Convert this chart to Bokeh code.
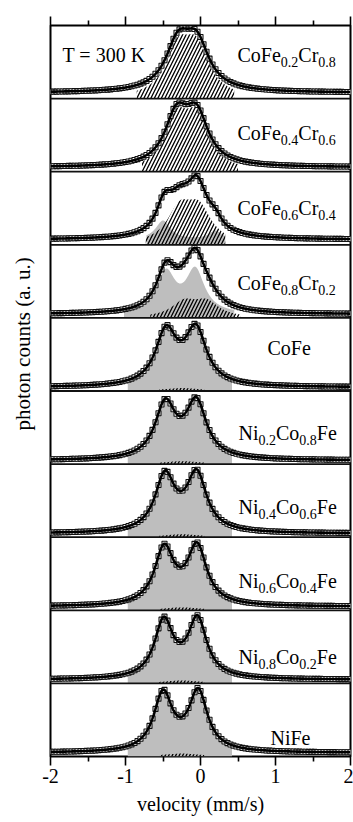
import numpy as np
from bokeh.plotting import figure
from bokeh.layouts import row
from bokeh.models import ColumnDataSource, LinearAxis, FixedTicker, Range1d
from bokeh.embed import file_html
from bokeh.resources import INLINE
from bokeh.core.properties import value

FONT = "Liberation Serif"

# ---------------- values ----------------
velocity_ticks = [-2, -1, 0, 1, 2]
velocity_minor = [-1.5, -0.5, 0.5, 1.5]
tick_labels = ["-2", "-1", "0", "1", "2"]

# sample names, top panel first; (text, is_subscript)
sample_labels = [
    [("CoFe", 0), ("0.2", 1), ("Cr", 0), ("0.8", 1)],
    [("CoFe", 0), ("0.4", 1), ("Cr", 0), ("0.6", 1)],
    [("CoFe", 0), ("0.6", 1), ("Cr", 0), ("0.4", 1)],
    [("CoFe", 0), ("0.8", 1), ("Cr", 0), ("0.2", 1)],
    [("CoFe", 0)],
    [("Ni", 0), ("0.2", 1), ("Co", 0), ("0.8", 1), ("Fe", 0)],
    [("Ni", 0), ("0.4", 1), ("Co", 0), ("0.6", 1), ("Fe", 0)],
    [("Ni", 0), ("0.6", 1), ("Co", 0), ("0.4", 1), ("Fe", 0)],
    [("Ni", 0), ("0.8", 1), ("Co", 0), ("0.2", 1), ("Fe", 0)],
    [("NiFe", 0)],
]

# background level of each spectrum (fraction of one panel height)
background = [0.08, 0.06, 0.07, 0.05, 0.05, 0.05, 0.05, 0.05, 0.05, 0.05]

# grey sub-spectrum (doublet): lines as (centre mm/s, half width mm/s, height)
doublet_lines = [
    [],
    [],
    [(-0.50, 0.12, 0.26), (0.20, 0.10, 0.12)],
    [(-0.46, 0.15, 0.55), (-0.07, 0.15, 0.58)],
    [(-0.46, 0.17, 0.71), (-0.06, 0.17, 0.73)],
    [(-0.47, 0.165, 0.72), (-0.055, 0.165, 0.74)],
    [(-0.475, 0.16, 0.74), (-0.05, 0.16, 0.76)],
    [(-0.485, 0.155, 0.75), (-0.045, 0.155, 0.77)],
    [(-0.49, 0.15, 0.76), (-0.04, 0.15, 0.78)],
    [(-0.50, 0.15, 0.77), (-0.03, 0.15, 0.79)],
]
# hatched sub-spectrum: lines as (centre mm/s, half width mm/s, height)
singlet_lines = [
    [(-0.30, 0.20, 0.61), (-0.05, 0.20, 0.61)],
    [(-0.32, 0.19, 0.65), (-0.05, 0.19, 0.65)],
    [(-0.28, 0.20, 0.44), (-0.02, 0.20, 0.44)],
    [(-0.22, 0.20, 0.20), (0.08, 0.20, 0.20)],
    [(-0.25, 0.30, 0.04)],
    [(-0.25, 0.30, 0.04)],
    [(-0.25, 0.30, 0.04)],
    [(-0.25, 0.30, 0.04)],
    [(-0.25, 0.30, 0.04)],
    [(-0.25, 0.30, 0.04)],
]
# unshaded sub-spectrum (only in the x = 0.6 sample)
other_lines = [[], [], [(-0.45, 0.10, 0.10), (-0.06, 0.12, 0.22)], [], [], [], [], [], [], []]

# velocity extent over which each shaded area is drawn
doublet_span = [None, None, (-0.72, 0.33), (-1.02, 0.45), (-0.97, 0.42),
                (-0.97, 0.42), (-0.97, 0.42), (-0.97, 0.42), (-0.97, 0.42), (-0.97, 0.42)]
singlet_span = [(-0.85, 0.45), (-0.78, 0.50), (-0.73, 0.33), (-0.67, 0.53), (-0.55, 0.05),
                (-0.55, 0.05), (-0.55, 0.05), (-0.55, 0.05), (-0.55, 0.05), (-0.55, 0.05)]

# ---------------- layout ----------------
W, H = 353, 822
TITLE_W = 36                      # strip on the left that carries the y title
FL, FR, FT, FB = 50, 350, 25, 756  # frame edges on the page
NP = len(sample_labels)
PX_X = (FR - FL) / 4.0
PX_Y = (FB - FT) / NP

label_left_px = [237, 237, 237, 237, 267, 238, 238, 238, 238, 270]
label_base_px = [54, 132, 207, 282, 347, 432, 506, 580, 656, 737]
MAIN_FS, SUB_FS, SUB_DROP = 20, 14, 7
char_w = {'C': 667, 'o': 500, 'F': 556, 'e': 444, 'r': 333, 'N': 722, 'i': 278, '.': 250}
for d in "0123456789":
    char_w[d] = 500


def px_to_x(px):
    return -2 + (px - FL) / PX_X


def px_to_y(py):
    return NP - (py - FT) / PX_Y


def lines_sum(v, lines):
    out = np.zeros_like(v)
    for c, w, a in lines:
        out += a * w * w / ((v - c) ** 2 + w * w)
    return out


p = figure(width=W - TITLE_W, height=H, x_range=Range1d(-2, 2), y_range=Range1d(0, NP),
           output_backend="svg", toolbar_location=None,
           x_axis_location=None, y_axis_location=None,
           min_border_left=FL - TITLE_W, min_border_right=W - FR,
           min_border_top=FT, min_border_bottom=H - FB)
p.grid.grid_line_color = None
p.outline_line_color = "black"
p.outline_line_width = 2
p.background_fill_color = "white"
p.border_fill_color = "white"

v_fine = np.linspace(-2, 2, 801)
v_chan = np.arange(-2, 2.0001, 0.04)

gray_xs, gray_ys, hat_xs, hat_ys = [], [], [], []
fit_xs, fit_ys, pts_x, pts_y = [], [], [], []
for k in range(NP):
    base = NP - 1 - k
    off = background[k]
    comps = doublet_lines[k] + singlet_lines[k] + other_lines[k]
    if doublet_span[k] is not None:
        lo, hi = doublet_span[k]
        vv = np.linspace(lo, hi, 300)
        top = off + lines_sum(vv, doublet_lines[k])
        gray_xs.append(np.concatenate([[lo], vv, [hi]]))
        gray_ys.append(base + np.concatenate([[0], top, [0]]))
    lo, hi = singlet_span[k]
    vv = np.linspace(lo, hi, 300)
    top = lines_sum(vv, singlet_lines[k])
    hat_xs.append(np.concatenate([[lo], vv, [hi]]))
    hat_ys.append(base + np.concatenate([[0], top, [0]]))
    fit_xs.append(v_fine)
    fit_ys.append(base + off + lines_sum(v_fine, comps))
    pts_x.extend(v_chan.tolist())
    pts_y.extend((base + off + lines_sum(v_chan, comps)).tolist())

p.patches(gray_xs, gray_ys, fill_color="#bebebe", line_color=None)
p.patches(hat_xs, hat_ys, fill_color=None, line_color=None,
          hatch_pattern="/", hatch_color="#000000", hatch_weight=1.3, hatch_scale=7)

# panel separators
p.multi_line([[-2, 2]] * (NP - 1), [[i, i] for i in range(1, NP)], line_color="#111111", line_width=1.8)

p.scatter(pts_x, pts_y, marker="square", size=5, fill_color="white", line_color="#111111", line_width=1.1)
p.multi_line(fit_xs, fit_ys, line_color="black", line_width=2.6)

# sample names with subscripts, and the temperature note
main = dict(x=[px_to_x(62)], y=[px_to_y(54.5)], text=["T = 300 K"])
sub = dict(x=[], y=[], text=[])
for k, parts in enumerate(sample_labels):
    xp = label_left_px[k]
    for txt, is_sub in parts:
        fs = SUB_FS if is_sub else MAIN_FS
        tgt = sub if is_sub else main
        tgt["x"].append(px_to_x(xp))
        tgt["y"].append(px_to_y(label_base_px[k] + (SUB_DROP if is_sub else 0)))
        tgt["text"].append(txt)
        xp += sum(char_w[c] for c in txt) / 1000.0 * fs
p.text(x="x", y="y", text="text", source=ColumnDataSource(main), text_font=value(FONT),
       text_font_size=f"{MAIN_FS}px", text_baseline="alphabetic", text_align="left", text_color="black")
p.text(x="x", y="y", text="text", source=ColumnDataSource(sub), text_font=value(FONT),
       text_font_size=f"{SUB_FS}px", text_baseline="alphabetic", text_align="left", text_color="black")

ticker = FixedTicker(ticks=velocity_ticks, minor_ticks=velocity_minor)
below = LinearAxis(ticker=ticker, major_label_overrides=dict(zip(velocity_ticks, tick_labels)))
above = LinearAxis(ticker=ticker, major_label_overrides={t: "" for t in velocity_ticks})
for ax in (below, above):
    ax.axis_line_color = None
    ax.major_tick_in = 0
    ax.major_tick_out = 9
    ax.minor_tick_in = 0
    ax.minor_tick_out = 5
    ax.major_tick_line_width = 1.6
    ax.minor_tick_line_width = 1.6
    ax.major_tick_line_color = "black"
    ax.minor_tick_line_color = "black"
below.major_label_text_font = FONT
below.major_label_text_font_size = "20px"
below.major_label_text_color = "black"
below.major_label_standoff = 3
below.axis_label = "velocity (mm/s)"
below.axis_label_text_font = FONT
below.axis_label_text_font_size = "20px"
below.axis_label_text_font_style = "normal"
below.axis_label_text_color = "black"
below.axis_label_standoff = 7
above.major_label_standoff = -25
p.add_layout(below, "below")
p.add_layout(above, "above")

# left strip carrying the rotated y title (page pixels as coordinates)
t = figure(width=TITLE_W, height=H, x_range=Range1d(0, TITLE_W), y_range=Range1d(H, 0),
           output_backend="svg", toolbar_location=None,
           x_axis_location=None, y_axis_location=None,
           min_border_left=0, min_border_right=0, min_border_top=0, min_border_bottom=0)
t.grid.grid_line_color = None
t.outline_line_color = None
t.background_fill_color = "white"
t.border_fill_color = "white"
t.text(x=[22], y=[358], text=["photon counts (a. u.)"], angle=np.pi / 2,
       text_font=value(FONT), text_font_size="21px", text_align="center",
       text_baseline="middle", text_color="black")

layout = row(t, p, spacing=0)
open("out.html", "w").write(file_html(layout, INLINE))
